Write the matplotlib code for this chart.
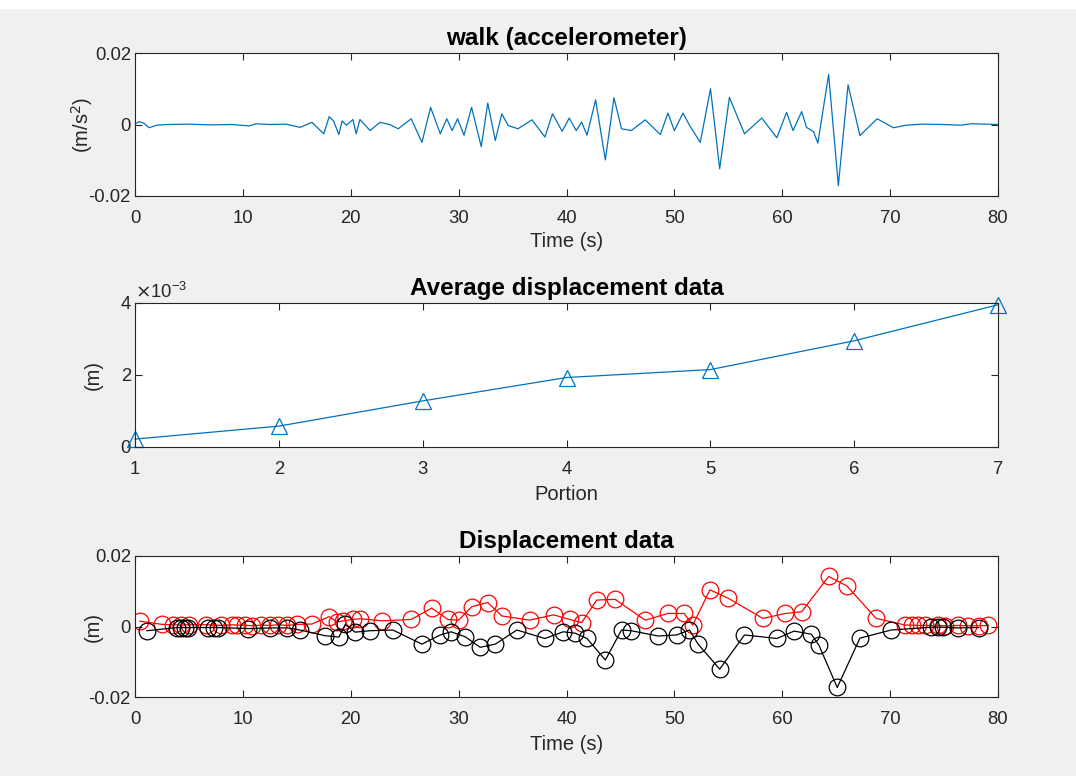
import matplotlib
matplotlib.use("Agg")
import matplotlib.pyplot as plt
from matplotlib.ticker import FuncFormatter
from matplotlib.patches import Rectangle

plt.rcParams['font.family'] = ['Liberation Sans', 'DejaVu Sans']

# ---- data: accelerometer signal ----
acc_t = [0, 0.4, 0.8, 1.3, 2.0, 3.0, 5.0, 7.0, 9.0, 10.6, 11.2, 12.5, 14.0, 15.3,
         16.4, 17.5, 18.0, 18.4, 18.9, 19.2, 19.6, 20.2, 20.5, 20.85, 21.8, 22.7,
         23.6, 24.4, 25.6, 26.6, 27.4, 28.3, 28.9, 29.4, 29.9, 30.5, 31.2, 32.1,
         32.7, 33.4, 34.0, 34.6, 35.5, 36.8, 38.0, 38.7, 39.6, 40.25, 40.9, 41.4,
         41.9, 42.7, 43.6, 44.4, 45.1, 46.0, 47.3, 48.7, 49.4, 50.0, 50.8, 51.4,
         52.4, 53.35, 54.2, 55.1, 56.5, 58.1, 59.5, 60.4, 61.0, 61.8, 62.25, 62.9,
         63.3, 64.3, 65.2, 66.1, 67.2, 68.8, 70.3, 71.5, 73.0, 75.0, 76.5, 77.5,
         79.0, 80.0]
acc_v = [0.0002, 0.0008, 0.0004, -0.0009, -0.0002, 0.0, 0.0001, -0.0001, 0.0,
         -0.0004, 0.0002, 0.0, 0.0001, -0.0008, 0.0006, -0.0026, 0.0022, 0.0010,
         -0.0028, 0.0010, -0.0002, 0.0014, -0.0026, 0.0014, -0.0017, 0.0006, 0.0,
         -0.0012, 0.0016, -0.0050, 0.0048, -0.0026, 0.0016, -0.0017, 0.0016,
         -0.0030, 0.0048, -0.0062, 0.0060, -0.0045, 0.0030, -0.0003, -0.0012,
         0.0013, -0.0035, 0.0030, -0.0019, 0.0018, -0.0017, 0.0007, -0.0030,
         0.0069, -0.0099, 0.0075, -0.0012, -0.0017, 0.0013, -0.0028, 0.0032,
         -0.0017, 0.0032, -0.0002, -0.0050, 0.0100, -0.0124, 0.0076, -0.0026,
         0.0018, -0.0037, 0.0034, -0.0017, 0.0036, -0.0008, -0.0020, -0.0052,
         0.0140, -0.0171, 0.0111, -0.0031, 0.0016, -0.0009, -0.0002, 0.0001, 0.0,
         -0.0002, 0.0002, 0.0001, 0.0]

# ---- data: average displacement per portion ----
portion = [1, 2, 3, 4, 5, 6, 7]
avg_disp = [0.00022, 0.00058, 0.00128, 0.00193, 0.00215, 0.00295, 0.00395]

# ---- data: displacement (peaks = red, troughs = black) ----
peak_t = [0.46, 2.5, 3.5, 4.3, 5.0, 6.6, 8.0, 9.0, 9.5, 10.2, 10.8, 11.7, 12.5,
          13.3, 14.1, 15.0, 16.4, 18.0, 18.7, 19.3, 20.2, 20.9, 22.9, 25.6, 27.5,
          29.0, 30.0, 31.2, 32.7, 34.0, 36.6, 38.8, 40.3, 41.4, 42.8, 44.5, 47.3,
          49.4, 50.9, 51.7, 53.3, 55.0, 58.2, 60.3, 61.8, 64.3, 66.0, 68.7, 71.4,
          72.0, 72.6, 73.2, 74.4, 75.1, 76.3, 77.2, 78.2, 79.1]
peak_v = [0.0015, 0.0006, 0.0005, 0.0004, 0.0005, 0.0005, 0.0003, 0.0005,
          0.0004, 0.0004, 0.0002, 0.0004, 0.0003, 0.0005, 0.0003, 0.0006, 0.0007,
          0.0028, 0.0013, 0.0016, 0.0020, 0.0022, 0.0016, 0.0020, 0.0052, 0.0020,
          0.0018, 0.0056, 0.0068, 0.0030, 0.0018, 0.0033, 0.0020, 0.0011, 0.0075,
          0.0077, 0.0018, 0.0037, 0.0037, 0.0004, 0.0104, 0.0080, 0.0023, 0.0037,
          0.0042, 0.0142, 0.0115, 0.0023, 0.0004, 0.0004, 0.0003, 0.0003, 0.0003,
          0.0002, 0.0003, 0.0002, 0.0002, 0.0003]
trough_t = [1.1, 3.9, 4.3, 4.6, 4.9, 6.8, 7.3, 7.7, 10.5, 12.5, 14.1, 15.3, 17.6,
            18.9, 19.5, 20.4, 21.8, 23.9, 26.6, 28.3, 29.3, 30.6, 32.0, 33.4, 35.4,
            38.0, 39.7, 40.8, 41.9, 43.6, 45.1, 46.0, 48.5, 50.2, 51.4, 52.2, 54.2,
            56.5, 59.5, 61.1, 62.7, 63.4, 65.1, 67.2, 70.1, 73.8, 74.4, 74.9, 76.3,
            78.2]
trough_v = [-0.0012, -0.0003, -0.0003, -0.0003, -0.0003, -0.0003, -0.0003,
            -0.0003, -0.0006, -0.0004, -0.0004, -0.0010, -0.0026, -0.0030, 0.0006,
            -0.0016, -0.0012, -0.0010, -0.0050, -0.0024, -0.0015, -0.0029, -0.0059,
            -0.0050, -0.0010, -0.0034, -0.0015, -0.0019, -0.0034, -0.0095, -0.0010,
            -0.0012, -0.0027, -0.0024, -0.0010, -0.0050, -0.0121, -0.0024, -0.0034,
            -0.0013, -0.0022, -0.0053, -0.0173, -0.0033, -0.0010, -0.0002, -0.0002,
            -0.0002, -0.0004, -0.0003]

time_ticks = [0, 10, 20, 30, 40, 50, 60, 70, 80]
acc_yticks = [-0.02, 0, 0.02]
avg_yticks = [0, 0.002, 0.004]

# ---- styling ----
W, H = 1076, 776
fig = plt.figure(figsize=(W / 100, H / 100), dpi=100, facecolor='#f0f0f0')
fig.patches.append(Rectangle((0, 1 - 9 / H), 1, 9 / H, transform=fig.transFigure,
                             facecolor='white', edgecolor='none', zorder=-1))

AX = '#262626'
TICK_FS = 13.3
LAB_FS = 14.5
TIT_FS = 17.5
BLUE = '#0072BD'


def box(left, top, right, bottom):
    return [left / W, 1 - bottom / H, (right - left) / W, (bottom - top) / H]


def style(ax):
    for s in ax.spines.values():
        s.set_color(AX)
        s.set_linewidth(0.8)
    ax.tick_params(direction='in', top=True, right=True, length=5, width=0.8,
                   colors=AX, labelsize=TICK_FS)
    ax.tick_params(axis='x', pad=10)
    ax.tick_params(axis='y', pad=3)


def fmt_plain(v, pos):
    if abs(v) < 1e-12:
        return '0'
    return ('%g' % v)


ax1 = fig.add_axes(box(135, 53, 998, 196))
ax1.plot(acc_t, acc_v, color=BLUE, lw=0.9)
ax1.set_xlim(0, 80)
ax1.set_ylim(-0.02, 0.02)
ax1.set_xticks(time_ticks)
ax1.set_yticks(acc_yticks)
ax1.yaxis.set_major_formatter(FuncFormatter(fmt_plain))
ax1.set_title('walk (accelerometer)', fontsize=TIT_FS, fontweight='bold', pad=6, color='black')
ax1.set_xlabel('Time (s)', fontsize=LAB_FS, color=AX, labelpad=4)
ax1.set_ylabel('(m/s$^2$)', fontsize=LAB_FS, color=AX)
ax1.yaxis.set_label_coords(-0.046, 0.5)
style(ax1)

ax2 = fig.add_axes(box(135, 303, 998, 447))
ax2.plot(portion, avg_disp, color=BLUE, lw=0.9, marker='^', markersize=12,
         markerfacecolor='none', markeredgecolor=BLUE, markeredgewidth=0.9, clip_on=False)
ax2.set_xlim(1, 7)
ax2.set_ylim(0, 0.004)
ax2.set_xticks(portion)
ax2.set_yticks(avg_yticks)
ax2.yaxis.set_major_formatter(FuncFormatter(lambda v, p: '%g' % round(v * 1000, 6)))
ax2.text(0.0, 1.005, r'$\times\mathregular{10^{-3}}$', transform=ax2.transAxes,
         fontsize=TICK_FS, color=AX, ha='left', va='bottom')
ax2.set_title('Average displacement data', fontsize=TIT_FS, fontweight='bold', pad=6, color='black')
ax2.set_xlabel('Portion', fontsize=LAB_FS, color=AX, labelpad=5)
ax2.set_ylabel('(m)', fontsize=LAB_FS, color=AX)
ax2.yaxis.set_label_coords(-0.037, 0.5)
style(ax2)

ax3 = fig.add_axes(box(135, 556, 998, 697))
ax3.plot(peak_t, peak_v, color='red', lw=0.9, marker='o', markersize=12,
         markerfacecolor='none', markeredgecolor='red', markeredgewidth=0.9)
ax3.plot(trough_t, trough_v, color='black', lw=0.9, marker='o', markersize=12,
         markerfacecolor='none', markeredgecolor='black', markeredgewidth=0.9)
ax3.set_xlim(0, 80)
ax3.set_ylim(-0.02, 0.02)
ax3.set_xticks(time_ticks)
ax3.set_yticks(acc_yticks)
ax3.yaxis.set_major_formatter(FuncFormatter(fmt_plain))
ax3.set_title('Displacement data', fontsize=TIT_FS, fontweight='bold', pad=6, color='black')
ax3.set_xlabel('Time (s)', fontsize=LAB_FS, color=AX, labelpad=5)
ax3.set_ylabel('(m)', fontsize=LAB_FS, color=AX)
ax3.yaxis.set_label_coords(-0.037, 0.5)
style(ax3)

fig.savefig('out.png', dpi=100, facecolor=fig.get_facecolor())
